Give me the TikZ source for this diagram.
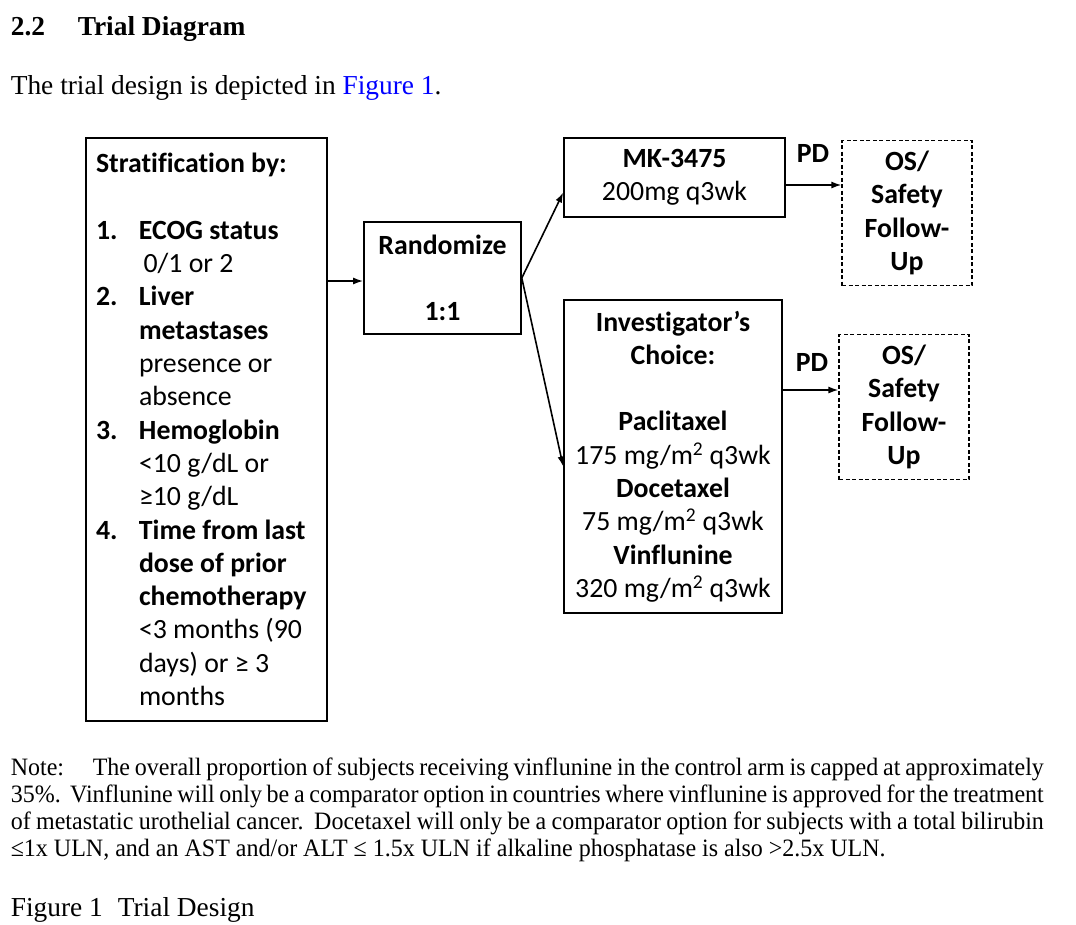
\documentclass[tikz,border=0pt]{standalone}
\usepackage{fontspec}
\setmainfont{Liberation Serif}
\newfontfamily\calibfont[Ligatures=NoCommon]{Carlito}
\newfontfamily\notefont[FakeStretch=0.96]{Liberation Serif}
\usetikzlibrary{arrows.meta}

\definecolor{link color}{RGB}{0,0,255}

\newcommand{\diagfont}{\calibfont\fontsize{27.8}{33.3}\selectfont}
\newcommand{\msq}{m\textsuperscript{2}}
\newlength{\numwidth}\setlength{\numwidth}{43pt}
\newcommand{\stratnum}[2]{\makebox[\numwidth][l]{\textbf{#1}}\textbf{#2}}
\newcommand{\stratmore}[1]{\hspace*{\numwidth}#1}

\begin{document}
\begin{tikzpicture}[x=1pt, y=-1pt, line width=1.6pt, >={Latex[length=10pt,width=7pt]},
    body/.style={inner sep=0pt, anchor=base west, font=\fontsize{27.4}{33}\selectfont},
    box/.style={draw, inner sep=0pt, align=flush center, font=\diagfont},
    followbox/.style={box, line width=1.1pt, dash pattern=on 4pt off 2.5pt, font=\diagfont\bfseries}]
    \useasboundingbox (0,0) rectangle (1076,924);

    \node (head) at (10,35) [body] {\bfseries\makebox[67pt][l]{2.2}Trial Diagram};
    \node (intro) at (10,94) [body] {The trial design is depicted in \textcolor{link color}{Figure 1}.};

    % the diagram
    \node (strat) at (206.5,429.5) [box, align=flush left, text width=221pt, inner xsep=10pt, minimum height=583pt] {
        \textbf{Stratification by:}\\[33.3pt]
        \stratnum{1.}{ECOG status}\\
        \stratmore{\,0/1 or 2}\\
        \stratnum{2.}{Liver}\\
        \stratmore{\textbf{metastases}}\\
        \stratmore{presence or}\\
        \stratmore{absence}\\
        \stratnum{3.}{Hemoglobin}\\
        \stratmore{<10 g/dL or}\\
        \stratmore{≥10 g/dL}\\
        \stratnum{4.}{Time from last}\\
        \stratmore{\textbf{dose of prior}}\\
        \stratmore{\textbf{chemotherapy}}\\
        \stratmore{<3 months (90}\\
        \stratmore{days) or ≥ 3}\\
        \stratmore{months}};
    \node (rand) at (442.5,278) [box, minimum width=157pt, minimum height=112pt] {\textbf{Randomize}\\[33.3pt]\textbf{1:1}};
    \node (mk) at (674.5,177.5) [box, minimum width=221pt, minimum height=79pt] {\textbf{MK-3475}\\200mg q3wk};
    \node (ic) at (673,456.5) [box, minimum width=218pt, minimum height=313pt] {\textbf{Investigator’s}\\\textbf{Choice:}\\[33.3pt]
        \textbf{Paclitaxel}\\175 mg/\msq{} q3wk\\\textbf{Docetaxel}\\75 mg/\msq{} q3wk\\\textbf{Vinflunine}\\320 mg/\msq{} q3wk};
    \foreach \n/\x/\y in {1/907/213, 2/904/407}
        \node (fu\n) at (\x,\y) [followbox, minimum width=130pt, minimum height=145pt] {OS/\\Safety\\Follow-\\Up};

    \node (pdtop) at (813,153) [box, draw=none] {\textbf{PD}};
    \node (pdbot) at (812,362) [box, draw=none] {\textbf{PD}};

    \draw [->] ([yshift=-3pt]rand.west -| strat.east) -- ([yshift=-3pt]rand.west);
    \draw [->] (rand.east) -- ([yshift=-15pt]mk.west);
    \draw [->] (rand.east) -- ([yshift=-10pt]ic.west);
    \draw [->] ([yshift=-7.5pt]mk.east) -- ([yshift=-7.5pt]mk.east -| fu1.west);
    \draw [->] ([yshift=66.5pt]ic.east) -- ([yshift=66.5pt]ic.east -| fu2.west);

    \node (note) at (10,775) [body, font=\notefont\fontsize{25}{27}\selectfont, text width=1033pt, align=justify] {\hyphenpenalty=10000\relax
        \makebox[82pt][l]{Note:}The overall proportion of subjects receiving vinflunine in the control arm is capped at approximately 35\%.\ \ Vinflunine will only be a comparator option in countries where vinflunine is approved for the treatment of metastatic urothelial cancer.\ \ Docetaxel will only be a comparator option for subjects with a total bilirubin ≤1x ULN, and an AST and/or ALT ≤ 1.5x ULN if alkaline phosphatase is also >2.5x ULN.};
    \node (caption) at (10,916) [body] {\makebox[107pt][l]{Figure 1}Trial Design};
\end{tikzpicture}
\end{document}
